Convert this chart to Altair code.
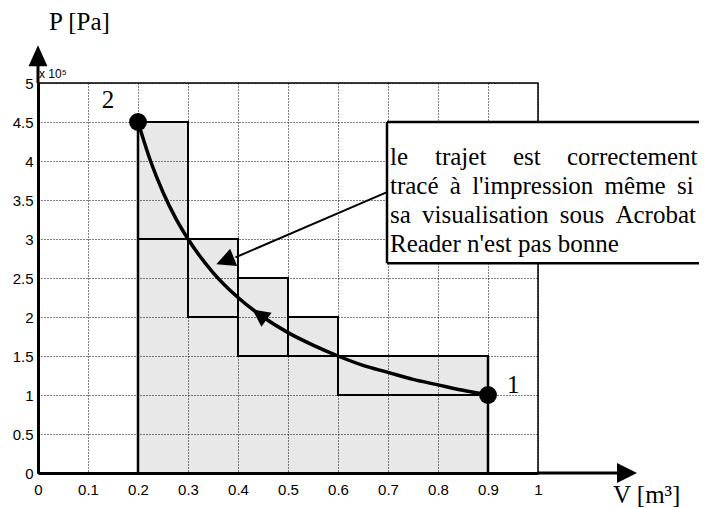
import altair as alt
import pandas as pd

# ---------------- data ----------------
# step rectangles (V in m^3, P in 1e5 Pa)
V_LEFT = [0.2, 0.3, 0.4, 0.5, 0.6]
V_RIGHT = [0.3, 0.4, 0.5, 0.6, 0.9]
P_HIGH = [4.5, 3.0, 2.5, 2.0, 1.5]
P_LOW = [3.0, 2.0, 1.5, 1.5, 1.0]

# vertical outer edges of the shaded area
EDGE_V = [0.2, 0.9]
EDGE_TOP = [4.5, 1.5]

# isothermal path 1 -> 2
CURVE_V = [0.2, 0.225, 0.25, 0.275, 0.3, 0.35, 0.4, 0.45, 0.5, 0.55,
           0.6, 0.65, 0.7, 0.75, 0.8, 0.85, 0.9]
CURVE_P = [4.5, 4.0, 3.6, 3.27, 3.0, 2.57, 2.25, 2.0, 1.8, 1.64,
           1.5, 1.38, 1.29, 1.2, 1.13, 1.06, 1.0]

# states
STATE_V = [0.9, 0.2]
STATE_P = [1.0, 4.5]
STATE_LABEL = ["1", "2"]

X_TICKS = [0, 0.1, 0.2, 0.3, 0.4, 0.5, 0.6, 0.7, 0.8, 0.9, 1]
Y_TICKS = [0, 0.5, 1, 1.5, 2, 2.5, 3, 3.5, 4, 4.5, 5]

# annotation (first line is justified word by word)
NB = "\u00a0"
TS = "\u2009"
G = NB + TS
NOTE_WORDS_1 = ["le", "trajet", "est", "correctement"]
NOTE_WORDS_1_X = [352, 397, 475, 529]
NOTE_LINES = [
    f"tracé{G}à{G}l'impression{G}même{G}si",
    f"sa{G}visualisation{G}sous{G}Acrobat",
    "Reader n'est pas bonne",
]
NOTE_BOX_V = [0.698, 1.323]
NOTE_BOX_P = [2.69, 4.5]
NOTE_ARROW_V = [0.698, 0.395]
NOTE_ARROW_P = [3.60, 2.765]
NOTE_HEAD = (0.374, 2.72)
CURVE_HEAD = (0.443, 2.03)

# ---------------- helpers ----------------
sx = alt.Scale(domain=[0, 1], nice=False, zero=False)
sy = alt.Scale(domain=[0, 5], nice=False, zero=False)

ax_x = alt.Axis(values=X_TICKS, title=None, grid=True, gridDash=[1, 2],
                gridColor="#000", gridWidth=1, gridOpacity=1, ticks=False,
                domainColor="#000", domainWidth=3, labelFont="Liberation Sans",
                labelFontSize=15, labelColor="#000", labelPadding=9,
                labelOverlap=False, labelFlush=False,
                labelExpr="toString(datum.value)")
ax_y = alt.Axis(values=Y_TICKS, title=None, grid=True, gridDash=[1, 2],
                gridColor="#000", gridWidth=1, gridOpacity=1, ticks=False,
                domainColor="#000", domainWidth=3, labelFont="Liberation Sans",
                labelFontSize=15, labelColor="#000", labelPadding=5,
                labelOverlap=False, labelFlush=False,
                labelExpr="toString(datum.value)")


def X(f):
    return alt.X(f, type="quantitative", scale=sx, axis=ax_x)


def Y(f):
    return alt.Y(f, type="quantitative", scale=sy, axis=ax_y)


steps = pd.DataFrame({"l": V_LEFT, "r": V_RIGHT, "hi": P_HIGH, "lo": P_LOW,
                      "zero": [0] * len(V_LEFT)})
edges = pd.DataFrame({"v": EDGE_V, "top": EDGE_TOP, "zero": [0, 0]})
curve = pd.DataFrame({"v": CURVE_V, "p": CURVE_P})
states = pd.DataFrame({"v": STATE_V, "p": STATE_P, "lab": STATE_LABEL})
box = pd.DataFrame({"v": [NOTE_BOX_V[0]], "v2": [NOTE_BOX_V[1]],
                    "p": [NOTE_BOX_P[0]], "p2": [NOTE_BOX_P[1]]})
box_h = pd.DataFrame({"v": [NOTE_BOX_V[0]] * 2, "v2": [NOTE_BOX_V[1]] * 2,
                      "p": NOTE_BOX_P})
arrow = pd.DataFrame({"v": NOTE_ARROW_V, "p": NOTE_ARROW_P})
heads = pd.DataFrame({"v": [NOTE_HEAD[0], CURVE_HEAD[0]],
                      "p": [NOTE_HEAD[1], CURVE_HEAD[1]],
                      "ang": [158, 216], "sz": [350, 300]})
yaxis_ext = pd.DataFrame({"v": [0], "p": [5], "p2": [5.22]})
xaxis_ext = pd.DataFrame({"v": [1], "v2": [1.16], "p": [0]})
yhead = pd.DataFrame({"v": [0], "p": [5.35]})
xhead = pd.DataFrame({"v": [1.178], "p": [0]})

fill = alt.Chart(steps).mark_rect(fill="#000", fillOpacity=0.09).encode(
    x=X("l"), x2="r", y=Y("zero"), y2="hi")
outline = alt.Chart(steps).mark_rect(fillOpacity=0, stroke="#000", strokeWidth=2).encode(
    x=X("l"), x2="r", y=Y("lo"), y2="hi")
edge = alt.Chart(edges).mark_rule(color="#000", strokeWidth=2.5).encode(
    x=X("v"), y=Y("zero"), y2="top")
line = alt.Chart(curve).mark_line(color="#000", strokeWidth=3.5, interpolate="monotone").encode(
    x=X("v"), y=Y("p"))
note_line = alt.Chart(arrow).mark_line(color="#000", strokeWidth=2).encode(
    x=X("v"), y=Y("p"))
head_marks = alt.Chart(heads).mark_point(
    shape="M1,0L-1,-1L-1,1Z", filled=True, color="#000", opacity=1).encode(
    x=X("v"), y=Y("p"), angle=alt.Angle("ang:Q", scale=None),
    size=alt.Size("sz:Q", scale=None))
note_fill = alt.Chart(box).mark_rect(fill="#fff").encode(
    x=X("v"), x2="v2", y=Y("p"), y2="p2")
note_left = alt.Chart(box).mark_rule(color="#000", strokeWidth=2.5).encode(
    x=X("v"), y=Y("p"), y2="p2")
note_hlines = alt.Chart(box_h).mark_rule(color="#000", strokeWidth=2.5).encode(
    x=X("v"), x2="v2", y=Y("p"))

TXT = dict(align="left", baseline="alphabetic", font="Liberation Serif",
           fontSize=25, color="#000")
word_layers = [
    alt.Chart(box).mark_text(**TXT).encode(
        x=alt.value(xw), y=alt.value(82), text=alt.value(w))
    for w, xw in zip(NOTE_WORDS_1, NOTE_WORDS_1_X)
]
note_text = alt.Chart(box).mark_text(lineBreak="\n", lineHeight=29, **TXT).encode(
    x=alt.value(352), y=alt.value(111), text=alt.value("\n".join(NOTE_LINES)))
dots = alt.Chart(states).mark_circle(size=320, color="#000", opacity=1).encode(
    x=X("v"), y=Y("p"))
lab1 = alt.Chart(states[states.lab == "1"]).mark_text(
    dx=19, dy=-2, **TXT).encode(x=X("v"), y=Y("p"), text="lab:N")
lab2 = alt.Chart(states[states.lab == "2"]).mark_text(
    align="center", baseline="alphabetic", dx=-30, dy=-14, font="Liberation Serif",
    fontSize=25, color="#000").encode(x=X("v"), y=Y("p"), text="lab:N")

y_ext = alt.Chart(yaxis_ext).mark_rule(color="#000", strokeWidth=3).encode(
    x=X("v"), y=Y("p"), y2="p2")
x_ext = alt.Chart(xaxis_ext).mark_rule(color="#000", strokeWidth=3).encode(
    x=X("v"), x2="v2", y=Y("p"))
y_arrow = alt.Chart(yhead).mark_point(
    shape="M0,-1L-0.9,1L0.9,1Z", filled=True, size=441, color="#000", opacity=1).encode(
    x=X("v"), y=Y("p"))
x_arrow = alt.Chart(xhead).mark_point(
    shape="M1,0L-1,-1L-1,1Z", filled=True, size=400, color="#000", opacity=1).encode(
    x=X("v"), y=Y("p"))

p_title = alt.Chart(box).mark_text(**TXT).encode(
    x=alt.value(11), y=alt.value(-53), text=alt.value("P [Pa]"))
v_title = alt.Chart(box).mark_text(**TXT).encode(
    x=alt.value(575), y=alt.value(420), text=alt.value("V [m³]"))
exp_txt = alt.Chart(box).mark_text(
    align="left", baseline="alphabetic", font="Liberation Sans", fontSize=12,
    color="#000").encode(x=alt.value(1), y=alt.value(-5), text=alt.value("x 10⁵"))

chart = alt.layer(
    fill, outline, edge, line, note_line, note_fill, note_left, note_hlines,
    *word_layers, note_text, head_marks, dots, lab1, lab2, y_ext, x_ext,
    y_arrow, x_arrow, p_title, v_title, exp_txt
).properties(
    width=500, height=390,
    autosize=alt.AutoSizeParams(type="none"),
    padding={"left": 30, "top": 75, "right": 161, "bottom": 35},
    background="#fff",
).configure_view(stroke="#000", strokeWidth=1.5)

chart.save("out.html", embed_options={"renderer": "svg", "actions": False})
